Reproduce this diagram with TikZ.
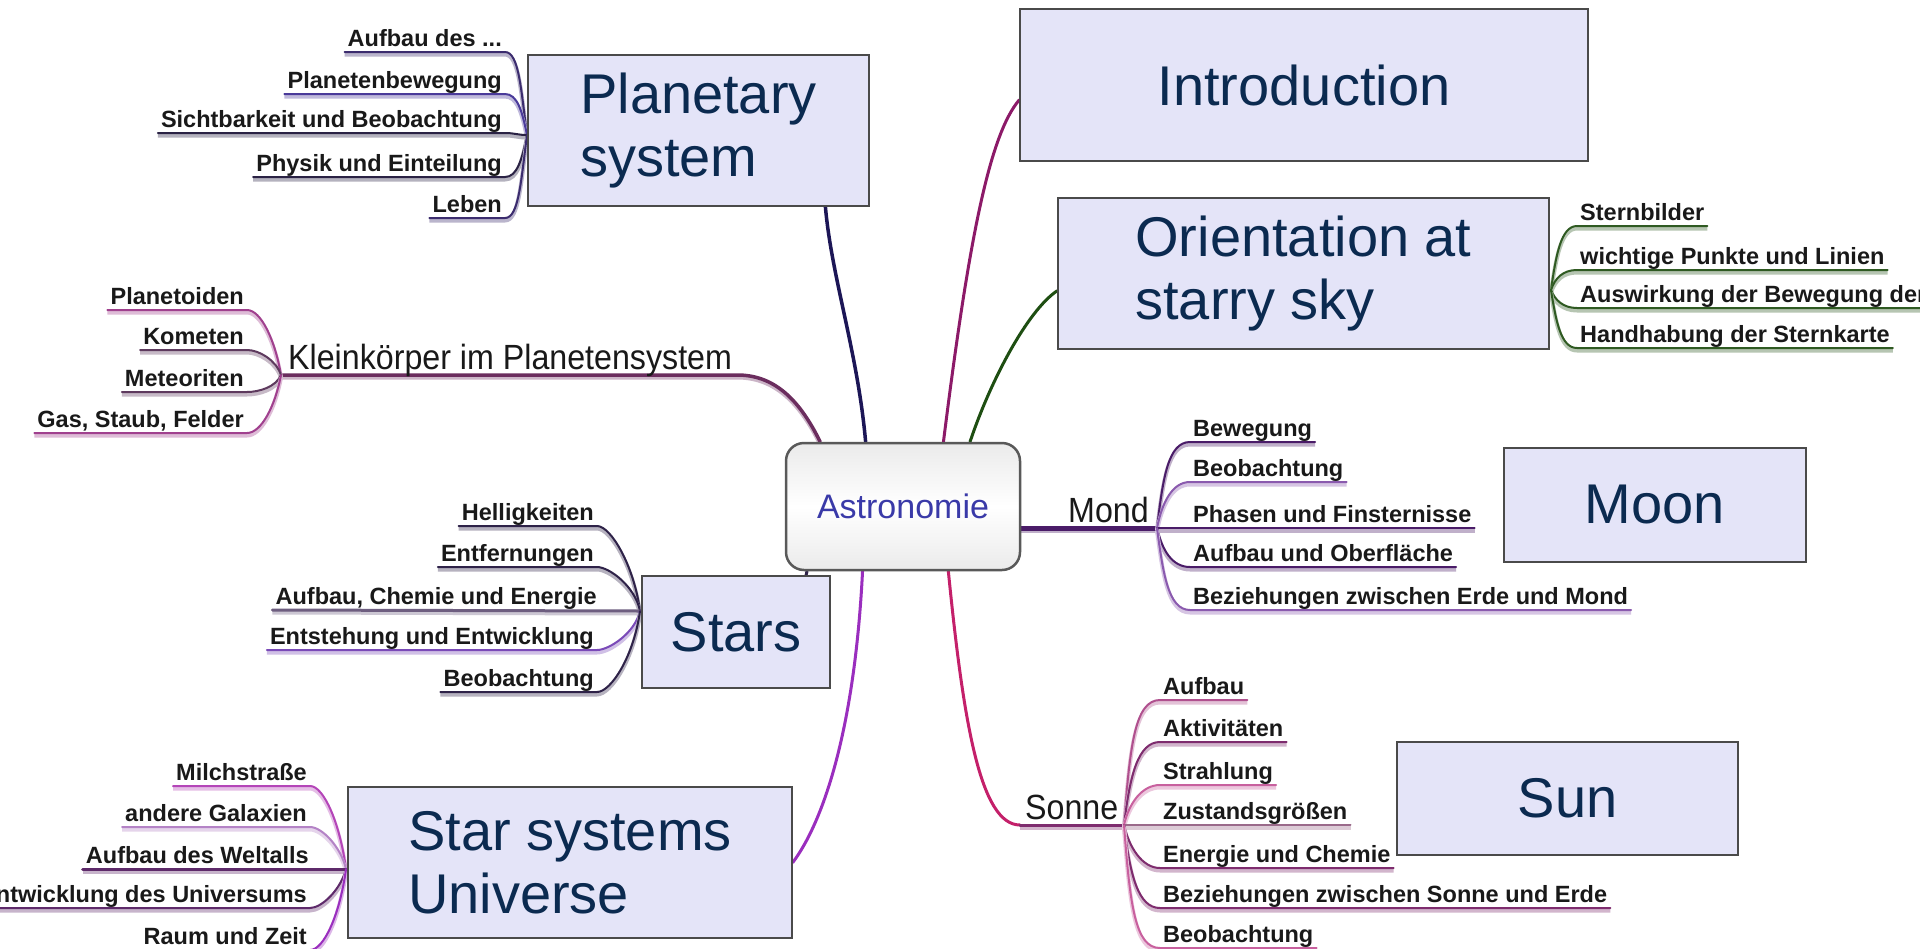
\documentclass[tikz,border=0pt]{standalone}
\usepackage{fontspec}
\setmainfont{Liberation Sans}
\newfontfamily\branchface[FakeStretch=0.92]{Liberation Sans}
\usepackage{tikz}
\usetikzlibrary{backgrounds}
\definecolor{panelfill}{HTML}{E4E4F8}
\definecolor{paneledge}{HTML}{4A4A4A}
\definecolor{paneltext}{HTML}{0B2A50}
\definecolor{astroblue}{HTML}{3A3AA8}
\definecolor{navyline}{HTML}{1C1656}
\definecolor{plumA}{HTML}{3B2C6E}
\definecolor{plumB}{HTML}{4A3A9A}
\definecolor{plumC}{HTML}{2A2244}
\definecolor{mauve}{HTML}{6B2D5E}
\definecolor{kpink}{HTML}{A0408E}
\definecolor{kdark}{HTML}{5E3A5E}
\definecolor{starA}{HTML}{2E2248}
\definecolor{starB}{HTML}{6E5E80}
\definecolor{starC}{HTML}{7A4AB8}
\definecolor{violetline}{HTML}{9A2EBE}
\definecolor{upink}{HTML}{B445B8}
\definecolor{ulilac}{HTML}{B483C6}
\definecolor{udark}{HTML}{5E2A6A}
\definecolor{magline}{HTML}{8C1A68}
\definecolor{greenline}{HTML}{1E4E12}
\definecolor{greenB}{HTML}{2F5A22}
\definecolor{mondline}{HTML}{4A1C68}
\definecolor{mondB}{HTML}{8A5AAE}
\definecolor{sonline}{HTML}{C4206A}
\definecolor{sonA}{HTML}{B0508E}
\definecolor{sonB}{HTML}{7E2C6E}
\definecolor{sonC}{HTML}{C8609E}
\definecolor{sonD}{HTML}{9A6A8A}

\begin{document}
\begin{tikzpicture}[
  x=1pt, y=-1pt,
  hub/.style={rounded corners=18pt, draw=gray!70!black, line width=2.5pt,
              top color=gray!16, bottom color=gray!16, middle color=white,
              minimum width=234pt, minimum height=127pt,
              font=\fontsize{34}{40}\selectfont, text=astroblue},
  panel/.style={draw=paneledge, fill=panelfill, line width=1.5pt, text=paneltext,
                font=\fontsize{56}{63}\selectfont, align=left, inner sep=0pt},
  leaf/.style={font=\fontsize{23.5}{28}\selectfont\bfseries, text=black!90,
               inner xsep=3pt, inner ysep=5pt, text depth=0pt},
  bough/.style={font=\branchface\fontsize{35}{40}\selectfont, text=black!90,
                inner xsep=5pt, inner ysep=5pt, text depth=0pt},
  limb/.style={draw=#1, line width=3.5pt, line cap=round},
  twig/.style={draw=#1, line width=2pt, line cap=round, line join=round,
               preaction={draw=#1!35, line width=4pt, transform canvas={yshift=-2.5pt}}}
]
\useasboundingbox (0,0) rectangle (1920,948);
\clip (0,0) rectangle (1920,948);

% centre
\node[hub] (astro) at (903,506.5) {Astronomie};

% overlay panels
\node[panel, minimum width=341pt, minimum height=151pt] (plan) at (698.5,130.5) {Planetary\\system};
\node[panel, minimum width=568pt, minimum height=152pt] (intro) at (1304,85) {Introduction};
\node[panel, minimum width=491pt, minimum height=151pt] (orient) at (1303.5,273.5) {Orientation at\\starry sky};
\node[panel, minimum width=302pt, minimum height=114pt] (moon) at (1655,505) {Moon};
\node[panel, minimum width=341pt, minimum height=113pt] (sun) at (1567.5,798.5) {Sun};
\node[panel, minimum width=188pt, minimum height=112pt] (stars) at (736,632) {Stars};
\node[panel, minimum width=444pt, minimum height=151pt] (starsys) at (570,862.5) {Star systems\\Universe};

% junctions
\coordinate (pj) at (527,135);
\coordinate (kj) at (281,375);
\coordinate (sj) at (640,611);
\coordinate (uj) at (346,869);
\coordinate (oj) at (1551,290);
\coordinate (mj) at (1157,528);
\coordinate (nj) at (1124,825);

% branch labels
\node[bough, anchor=south west] (klein) at (283,375) {Kleinkörper im Planetensystem};
\node[bough, anchor=south west] (mond) at (1063,528) {Mond};
\node[bough, anchor=south west] (sonne) at (1020,825) {Sonne};

% planetary system
\node[leaf, anchor=south east] (pa) at (505,52) {Aufbau des ...};
\node[leaf, anchor=south east] (pb) at (505,94) {Planetenbewegung};
\node[leaf, anchor=south east] (pc) at (505,133) {Sichtbarkeit und Beobachtung};
\node[leaf, anchor=south east] (pd) at (505,177) {Physik und Einteilung};
\node[leaf, anchor=south east] (pe) at (505,218) {Leben};

% small bodies
\node[leaf, anchor=south east] (ka) at (247,310) {Planetoiden};
\node[leaf, anchor=south east] (kb) at (247,350) {Kometen};
\node[leaf, anchor=south east] (kc) at (247,392) {Meteoriten};
\node[leaf, anchor=south east] (kd) at (247,433) {Gas, Staub, Felder};

% stars
\node[leaf, anchor=south east] (sa) at (597,526) {Helligkeiten};
\node[leaf, anchor=south east] (sb) at (597,567) {Entfernungen};
\node[leaf, anchor=south east] (sc) at (600,610) {Aufbau, Chemie und Energie};
\node[leaf, anchor=south east] (sd) at (597,650) {Entstehung und Entwicklung};
\node[leaf, anchor=south east] (se) at (597,692) {Beobachtung};

% star systems
\node[leaf, anchor=south east] (ua) at (310,786) {Milchstraße};
\node[leaf, anchor=south east] (ub) at (310,827) {andere Galaxien};
\node[leaf, anchor=south east] (uc) at (312,869) {Aufbau des Weltalls};
\node[leaf, anchor=south east] (ud) at (310,908) {Entwicklung des Universums};
\node[leaf, anchor=south east] (ue) at (310,950) {Raum und Zeit};

% orientation
\node[leaf, anchor=south west] (oa) at (1577,226) {Sternbilder};
\node[leaf, anchor=south west] (ob) at (1577,270) {wichtige Punkte und Linien};
\node[leaf, anchor=south west] (oc) at (1577,308) {Auswirkung der Bewegung der};
\node[leaf, anchor=south west] (od) at (1577,348) {Handhabung der Sternkarte};

% moon
\node[leaf, anchor=south west] (ma) at (1190,442) {Bewegung};
\node[leaf, anchor=south west] (mb) at (1190,482) {Beobachtung};
\node[leaf, anchor=south west] (mc) at (1190,528) {Phasen und Finsternisse};
\node[leaf, anchor=south west] (md) at (1190,567) {Aufbau und Oberfläche};
\node[leaf, anchor=south west] (me) at (1190,610) {Beziehungen zwischen Erde und Mond};

% sun
\node[leaf, anchor=south west] (na) at (1160,700) {Aufbau};
\node[leaf, anchor=south west] (nb) at (1160,742) {Aktivitäten};
\node[leaf, anchor=south west] (nc) at (1160,785) {Strahlung};
\node[leaf, anchor=south west] (nd) at (1160,825) {Zustandsgrößen};
\node[leaf, anchor=south west] (ne) at (1160,868) {Energie und Chemie};
\node[leaf, anchor=south west] (nf) at (1160,908) {Beziehungen zwischen Sonne und Erde};
\node[leaf, anchor=south west] (ng) at (1160,948) {Beobachtung};

\begin{scope}[on background layer]
\fill[white] (0,0) rectangle (1920,948);
% main branches
\draw[limb=navyline] (astro.120) .. controls +(-8,-90) and +(6,70) .. (plan.-31);
\draw[twig=mauve, line width=3.5pt] (astro.142) .. controls +(-22,-45) and +(35,0) .. (klein.south east) -- (kj);
\draw[limb=magline, line width=3pt] (astro.58) .. controls +(25,-200) and +(-30,35) .. (intro.183);
\draw[limb=greenline, line width=3pt] (astro.44) .. controls +(20,-60) and +(-30,20) .. (orient.184);
\draw[limb=starA, line width=3pt] (astro.214) -- (stars.39);
\draw[limb=violetline, line width=3pt] (astro.238) .. controls +(-8,160) and +(30,-40) .. (starsys.east);
\draw[twig=mondline, line width=5pt] (astro.east |- mj) -- (mj);
\draw[limb=sonline, line width=3pt] (astro.305) .. controls +(15,150) and +(-40,0) .. (sonne.south west);
\draw[twig=sonB, line width=3pt] (sonne.south west) -- (nj);

% planetary system twigs
\draw[twig=plumA] (pa.south west) -- (pa.south east) .. controls +(14,0) and +(-6,-45) .. (pj);
\draw[twig=plumB] (pb.south west) -- (pb.south east) .. controls +(12,0) and +(-5,-25) .. (pj);
\draw[twig=plumC] (pc.south west) -- (pc.south east) .. controls +(10,0) and +(-10,0) .. (pj);
\draw[twig=plumC] (pd.south west) -- (pd.south east) .. controls +(12,0) and +(-5,25) .. (pj);
\draw[twig=plumA] (pe.south west) -- (pe.south east) .. controls +(14,0) and +(-6,45) .. (pj);

% small bodies twigs
\draw[twig=kpink] (ka.south west) -- (ka.south east) .. controls +(14,0) and +(-6,-35) .. (kj);
\draw[twig=kdark] (kb.south west) -- (kb.south east) .. controls +(12,0) and +(-5,-15) .. (kj);
\draw[twig=kdark] (kc.south west) -- (kc.south east) .. controls +(12,0) and +(-5,12) .. (kj);
\draw[twig=kpink] (kd.south west) -- (kd.south east) .. controls +(14,0) and +(-6,32) .. (kj);

% stars twigs
\draw[twig=starA] (sa.south west) -- (sa.south east) .. controls +(14,0) and +(-6,-45) .. (sj);
\draw[twig=starA] (sb.south west) -- (sb.south east) .. controls +(12,0) and +(-5,-25) .. (sj);
\draw[twig=starB, line width=3pt] (sc.south west) -- (sj);
\draw[twig=starC] (sd.south west) -- (sd.south east) .. controls +(12,0) and +(-5,22) .. (sj);
\draw[twig=starA] (se.south west) -- (se.south east) .. controls +(14,0) and +(-6,45) .. (sj);

% star systems twigs
\draw[twig=upink] (ua.south west) -- (ua.south east) .. controls +(14,0) and +(-6,-45) .. (uj);
\draw[twig=ulilac] (ub.south west) -- (ub.south east) .. controls +(12,0) and +(-5,-22) .. (uj);
\draw[twig=udark, line width=3pt] (uc.south west) -- (uj);
\draw[twig=udark] (ud.south west) -- (ud.south east) .. controls +(12,0) and +(-5,20) .. (uj);
\draw[twig=violetline] (ue.south west) -- (ue.south east) .. controls +(14,0) and +(-6,45) .. (uj);

% orientation twigs
\draw[twig=greenB] (oj) .. controls +(5,-35) and +(-16,0) .. (oa.south west) -- (oa.south east);
\draw[twig=greenB] (oj) .. controls +(4,-12) and +(-14,0) .. (ob.south west) -- (ob.south east);
\draw[twig=greenB] (oj) .. controls +(4,10) and +(-14,0) .. (oc.south west) -- (oc.south east);
\draw[twig=greenB] (oj) .. controls +(5,32) and +(-16,0) .. (od.south west) -- (od.south east);

% moon twigs
\draw[twig=mondline] (mj) .. controls +(6,-50) and +(-22,0) .. (ma.south west) -- (ma.south east);
\draw[twig=mondB] (mj) .. controls +(5,-25) and +(-18,0) .. (mb.south west) -- (mb.south east);
\draw[twig=mondline] (mj) -- (mc.south east);
\draw[twig=mondline] (mj) .. controls +(5,22) and +(-18,0) .. (md.south west) -- (md.south east);
\draw[twig=mondB] (mj) .. controls +(6,45) and +(-22,0) .. (me.south west) -- (me.south east);

% sun twigs
\draw[twig=sonA] (nj) .. controls +(6,-80) and +(-25,0) .. (na.south west) -- (na.south east);
\draw[twig=sonB] (nj) .. controls +(6,-50) and +(-22,0) .. (nb.south west) -- (nb.south east);
\draw[twig=sonC] (nj) .. controls +(5,-22) and +(-18,0) .. (nc.south west) -- (nc.south east);
\draw[twig=sonD] (nj) -- (nd.south east);
\draw[twig=sonB] (nj) .. controls +(5,22) and +(-18,0) .. (ne.south west) -- (ne.south east);
\draw[twig=sonB] (nj) .. controls +(6,50) and +(-22,0) .. (nf.south west) -- (nf.south east);
\draw[twig=sonC] (nj) .. controls +(6,80) and +(-25,0) .. (ng.south west) -- (ng.south east);
\end{scope}
\end{tikzpicture}
\end{document}
